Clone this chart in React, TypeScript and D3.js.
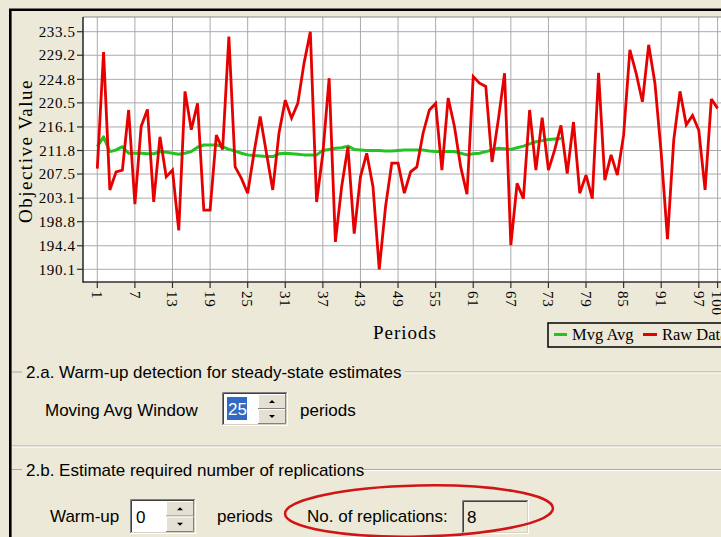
import React from "react";
import * as d3 from "d3";

// ---------- data ----------
const rawData: number[] = [
  208.5, 229.8, 204.6, 207.9, 208.2, 219.2, 202.0, 216.2, 219.3, 202.4,
  214.3, 207.0, 208.2, 197.2, 222.6, 215.6, 220.4, 200.9, 200.9, 214.6,
  212.0, 232.6, 208.8, 206.7, 204.0, 211.3, 218.0, 211.3, 204.6, 215.0,
  221.0, 217.7, 220.4, 227.8, 233.5, 202.4, 211.3, 225.0, 195.1, 205.2,
  212.5, 196.6, 207.0, 211.3, 205.2, 190.1, 201.5, 209.5, 209.5, 204.0,
  207.9, 208.8, 215.0, 219.2, 220.4, 208.2, 221.4, 216.2, 208.8, 203.8,
  225.3, 224.1, 223.5, 209.7, 217.4, 225.9, 194.5, 205.8, 203.0, 219.2,
  208.2, 217.8, 208.2, 211.9, 216.4, 207.6, 217.0, 204.0, 207.3, 203.0,
  226.0, 206.4, 211.0, 207.3, 214.6, 230.2, 225.9, 220.7, 231.1, 224.1,
  211.3, 195.6, 213.7, 222.6, 216.5, 218.2, 215.5, 204.6, 221.2, 219.5,
];

const movingAvg: number[] = [
  212.5, 214.3, 211.6, 211.9, 212.5, 211.3, 211.3, 211.3, 211.2, 211.2,
  211.6, 211.5, 211.3, 211.1, 211.3, 211.6, 212.4, 212.8, 212.8, 212.8,
  212.5, 212.0, 211.7, 211.3, 211.0, 210.9, 210.8, 210.7, 210.7, 211.2,
  211.3, 211.2, 211.1, 211.0, 211.0, 211.0, 211.8, 212.0, 212.2, 212.3,
  212.6, 212.0, 211.9, 211.8, 211.8, 211.8, 211.7, 211.7, 211.8, 211.9,
  211.9, 211.9, 211.9, 211.7, 211.6, 211.6, 211.6, 211.6, 211.3, 211.0,
  211.2, 211.3, 211.6, 211.9, 212.2, 212.1, 212.0, 212.3, 212.6, 213.0,
  213.4, 213.6, 213.8, 213.9, 214.0,
];

const yTicks: number[] = [190.1, 194.4, 198.8, 203.1, 207.5, 211.8, 216.1, 220.5, 224.8, 229.2, 233.5];
const xTicks: number[] = [1, 7, 13, 19, 25, 31, 37, 43, 49, 55, 61, 67, 73, 79, 85, 91, 97, 100];
const legendItems: string[] = ["Mvg Avg", "Raw Data"];

// ---------- layout ----------
const W = 721;
const H = 537;
const BG = "#ECE9D8";
const plot = { left: 83, top: 17, right: 725, bottom: 282 };
const SERIF = "'Liberation Serif', 'Times New Roman', serif";
const SANS = "'Liberation Sans', Arial, sans-serif";

const x = d3.scaleLinear().domain([1, 100]).range([97.3, 717.6]);
const y = d3.scaleLinear().domain([190.1, 233.5]).range([269.3, 31.7]);

const line = d3
  .line<number>()
  .x((_, i) => x(i + 1))
  .y((d) => y(d));

function Sunken({ x0, y0, w, h, fill }: { x0: number; y0: number; w: number; h: number; fill: string }) {
  return (
    <g>
      <rect x={x0} y={y0} width={w} height={h} fill={fill} />
      <path d={`M${x0 + 0.5},${y0 + h} V${y0 + 0.5} H${x0 + w}`} stroke="#808080" fill="none" />
      <path d={`M${x0 + 1.5},${y0 + h - 1} V${y0 + 1.5} H${x0 + w - 1}`} stroke="#404040" fill="none" />
      <path d={`M${x0},${y0 + h - 0.5} H${x0 + w - 0.5} V${y0}`} stroke="#ffffff" fill="none" />
      <path d={`M${x0 + 1},${y0 + h - 1.5} H${x0 + w - 1.5} V${y0 + 1}`} stroke="#d4d0c8" fill="none" />
    </g>
  );
}

function Raised({ x0, y0, w, h, up }: { x0: number; y0: number; w: number; h: number; up: boolean }) {
  const cx = x0 + w / 2;
  const cy = y0 + h / 2;
  const tri = up
    ? `M${cx - 3},${cy + 1.5} L${cx + 3},${cy + 1.5} L${cx},${cy - 1.5} Z`
    : `M${cx - 3},${cy - 1.5} L${cx + 3},${cy - 1.5} L${cx},${cy + 1.5} Z`;
  return (
    <g>
      <rect x={x0} y={y0} width={w} height={h} fill="#e4e1d4" />
      <path d={`M${x0 + 0.5},${y0 + h} V${y0 + 0.5} H${x0 + w}`} stroke="#ffffff" fill="none" />
      <path d={`M${x0},${y0 + h - 0.5} H${x0 + w - 0.5} V${y0}`} stroke="#808080" fill="none" />
      <path d={tri} fill="#000" />
    </g>
  );
}

function Spin({ x0, y0, w, h, value, selected }: { x0: number; y0: number; w: number; h: number; value: string; selected: boolean }) {
  const bw = 28;
  const bx = x0 + w - bw - 2;
  const half = (h - 4) / 2;
  return (
    <g>
      <Sunken x0={x0} y0={y0} w={w} h={h} fill="#ffffff" />
      {selected && <rect x={x0 + 5} y={y0 + 5} width={20} height={h - 11} fill="#316AC5" />}
      <text x={x0 + 6} y={y0 + h / 2 + 6} fontFamily={SANS} fontSize={17} fill={selected ? "#fff" : "#000"}>
        {value}
      </text>
      <Raised x0={bx} y0={y0 + 2} w={bw} h={half} up={true} />
      <Raised x0={bx} y0={y0 + 2 + half} w={bw} h={half} up={false} />
    </g>
  );
}

function GroupTitle({ yy, text, endX }: { yy: number; text: string; endX: number }) {
  return (
    <g>
      <line x1={12} x2={22} y1={yy} y2={yy} stroke="#aca899" />
      <line x1={endX} x2={W} y1={yy} y2={yy} stroke="#aca899" />
      <line x1={endX} x2={W} y1={yy + 1} y2={yy + 1} stroke="#ffffff" />
      <text x={26} y={yy + 6} fontFamily={SANS} fontSize={17} fill="#000">
        {text}
      </text>
    </g>
  );
}

export default function App() {
  return (
    <svg
      width={W}
      height={H}
      viewBox={`0 0 ${W} ${H}`}
      style={{ position: "absolute", left: 0, top: 0, display: "block" }}
    >
      <rect x={0} y={0} width={W} height={H} fill={BG} />

      {/* plot background */}
      <rect x={plot.left} y={plot.top} width={plot.right - plot.left} height={plot.bottom - plot.top} fill="#ffffff" />

      {/* grid */}
      {yTicks.map((t) => (
        <line key={"gy" + t} x1={plot.left} x2={plot.right} y1={y(t)} y2={y(t)} stroke="#aaaaaa" strokeWidth={1} />
      ))}
      {xTicks.map((t) => (
        <line key={"gx" + t} x1={x(t)} x2={x(t)} y1={plot.top} y2={plot.bottom} stroke="#aaaaaa" strokeWidth={1} />
      ))}
      <line x1={plot.left} x2={plot.right} y1={plot.top} y2={plot.top} stroke="#8a8a8a" strokeWidth={1.2} />

      {/* series */}
      <path d={line(movingAvg) || ""} fill="none" stroke="#22c322" strokeWidth={3} strokeLinejoin="round" />
      <path d={line(rawData) || ""} fill="none" stroke="#e60000" strokeWidth={2.8} strokeLinejoin="miter" strokeMiterlimit={3} />

      {/* axes */}
      <line x1={plot.left} x2={plot.left} y1={plot.top} y2={plot.bottom + 0.7} stroke="#303030" strokeWidth={1.6} />
      <line x1={plot.left} x2={plot.right} y1={plot.bottom} y2={plot.bottom} stroke="#303030" strokeWidth={1.6} />
      {yTicks.map((t) => (
        <g key={"ty" + t}>
          <line x1={plot.left - 6} x2={plot.left} y1={y(t)} y2={y(t)} stroke="#303030" strokeWidth={1.2} />
          <text x={75.5} y={y(t)} dy="0.35em" textAnchor="end" fontFamily={SERIF} fontSize={15} letterSpacing={0.6} fill="#000">
            {t.toFixed(1)}
          </text>
        </g>
      ))}
      {xTicks.map((t) => (
        <g key={"tx" + t}>
          <line x1={x(t)} x2={x(t)} y1={plot.bottom} y2={plot.bottom + 6} stroke="#303030" strokeWidth={1.2} />
          <text
            transform={`translate(${x(t)},${plot.bottom + 9}) rotate(90)`}
            dy="0.35em"
            fontFamily={SERIF}
            fontSize={15}
            letterSpacing={0.8}
            fill="#000"
          >
            {t}
          </text>
        </g>
      ))}

      {/* axis titles */}
      <text x={405} y={339} textAnchor="middle" fontFamily={SERIF} fontSize={19} letterSpacing={1} fill="#000">
        Periods
      </text>
      <text
        transform="translate(32,151) rotate(-90)"
        textAnchor="middle"
        fontFamily={SERIF}
        fontSize={19}
        letterSpacing={1.5}
        fill="#000"
      >
        Objective Value
      </text>

      {/* legend */}
      <rect x={548} y={323} width={200} height={24} fill="none" stroke="#000" strokeWidth={1.5} />
      <line x1={554} x2={567} y1={334.5} y2={334.5} stroke="#22c322" strokeWidth={3} />
      <text x={572} y={340} fontFamily={SERIF} fontSize={16.5} fill="#000">
        {legendItems[0]}
      </text>
      <line x1={643} x2={657} y1={334.5} y2={334.5} stroke="#e60000" strokeWidth={3} />
      <text x={662} y={340} fontFamily={SERIF} fontSize={16.5} fill="#000">
        {legendItems[1]}
      </text>

      {/* lower panel */}
      <GroupTitle yy={372} text="2.a. Warm-up detection for steady-state estimates" endX={405} />
      <text x={45} y={416} fontFamily={SANS} fontSize={17} fill="#000">Moving Avg Window</text>
      <Spin x0={222} y0={392} w={66} h={34} value="25" selected={true} />
      <text x={300} y={416} fontFamily={SANS} fontSize={17} fill="#000">periods</text>

      <line x1={12} x2={W} y1={446} y2={446} stroke="#aca899" />
      <line x1={12} x2={W} y1={447} y2={447} stroke="#ffffff" />

      <GroupTitle yy={469.5} text="2.b. Estimate required number of replications" endX={362} />
      <text x={50} y={522} fontFamily={SANS} fontSize={17} fill="#000">Warm-up</text>
      <Spin x0={130} y0={499} w={66} h={35} value="0" selected={false} />
      <text x={217} y={522} fontFamily={SANS} fontSize={17} fill="#000">periods</text>
      <text x={307} y={522} fontFamily={SANS} fontSize={17} fill="#000">No. of replications:</text>
      <Sunken x0={462} y0={500} w={67} h={34} fill={BG} />
      <text x={467} y={523} fontFamily={SANS} fontSize={17} fill="#000">8</text>

      <ellipse cx={419} cy={511} rx={134} ry={25.5} fill="none" stroke="#d01515" strokeWidth={2.5} transform="rotate(-1.2,419,511)" />

      {/* outer frame */}
      <path d={`M10.3,${H + 5} V9.8 H${W + 5}`} fill="none" stroke="#000" strokeWidth={2.6} />
    </svg>
  );
}
